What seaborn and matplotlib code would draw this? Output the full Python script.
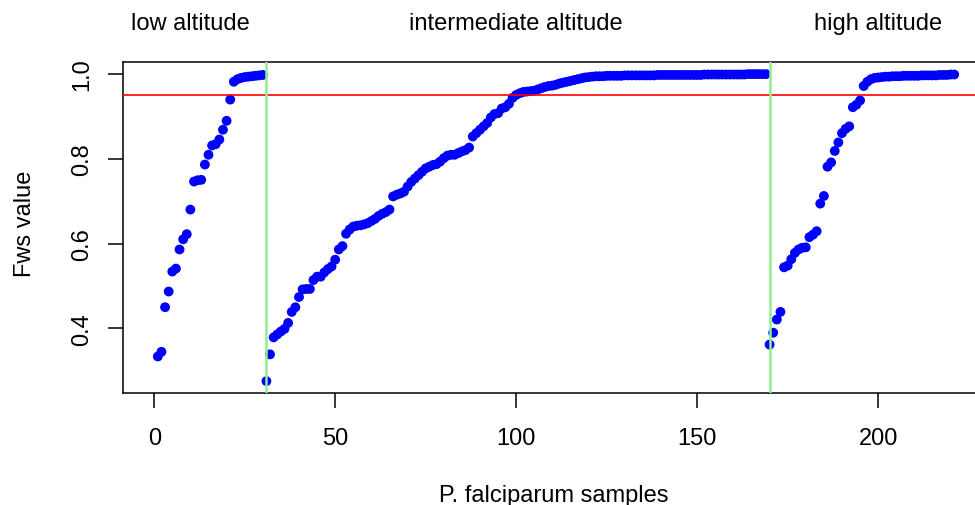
import numpy as np
import pandas as pd
import matplotlib
matplotlib.use('Agg')
import matplotlib.pyplot as plt
import matplotlib.transforms as mtransforms
import seaborn as sns

# Fws values per sample, sorted within each altitude group
low_alt = [0.334, 0.345, 0.450, 0.487, 0.534, 0.541, 0.586, 0.610, 0.622, 0.680,
           0.746, 0.749, 0.750, 0.786, 0.809, 0.831, 0.834, 0.845, 0.868, 0.889,
           0.939, 0.981, 0.987, 0.990, 0.992, 0.993, 0.994, 0.995, 0.996, 0.997]

mid_alt = [0.276, 0.339, 0.379, 0.386, 0.393, 0.399, 0.413, 0.439, 0.450, 0.474,
           0.492, 0.493, 0.493, 0.514, 0.522, 0.522, 0.532, 0.540, 0.546, 0.562,
           0.586, 0.594, 0.623, 0.633, 0.640, 0.642, 0.643, 0.645, 0.648, 0.653,
           0.658, 0.665, 0.670, 0.674, 0.680, 0.711, 0.715, 0.718, 0.722, 0.734,
           0.745, 0.753, 0.761, 0.769, 0.777, 0.781, 0.785, 0.787, 0.793, 0.801,
           0.807, 0.809, 0.809, 0.813, 0.817, 0.820, 0.826, 0.852, 0.860, 0.868,
           0.876, 0.884, 0.897, 0.905, 0.907, 0.918, 0.921, 0.929, 0.943, 0.950,
           0.954, 0.957, 0.958, 0.959, 0.960, 0.963, 0.966, 0.969, 0.971, 0.972,
           0.974, 0.977, 0.979, 0.981, 0.983, 0.985, 0.987, 0.989, 0.991, 0.992,
           0.993, 0.994, 0.994, 0.994, 0.995, 0.995, 0.995, 0.995, 0.995, 0.996,
           0.996, 0.996, 0.996, 0.996, 0.996, 0.996, 0.996, 0.996, 0.997, 0.997,
           0.997, 0.997, 0.997, 0.997, 0.997, 0.997, 0.997, 0.997, 0.997, 0.997,
           0.997, 0.998, 0.998, 0.998, 0.998, 0.998, 0.998, 0.998, 0.998, 0.998,
           0.998, 0.998, 0.998, 0.999, 0.999, 0.999, 0.999, 0.999, 0.999]

high_alt = [0.362, 0.390, 0.421, 0.439, 0.544, 0.548, 0.563, 0.578, 0.586, 0.590,
            0.591, 0.615, 0.621, 0.629, 0.694, 0.712, 0.781, 0.791, 0.818, 0.838,
            0.860, 0.870, 0.876, 0.921, 0.927, 0.937, 0.971, 0.981, 0.987, 0.990,
            0.991, 0.992, 0.993, 0.993, 0.994, 0.994, 0.994, 0.995, 0.995, 0.995,
            0.995, 0.995, 0.996, 0.996, 0.996, 0.996, 0.996, 0.997, 0.997, 0.997,
            0.998, 0.998]

group_names = ['low altitude', 'intermediate altitude', 'high altitude']
group_label_x = [10, 100, 200]
fws_cutoff = 0.95
x_ticks = [0, 50, 100, 150, 200]
y_ticks = [0.4, 0.6, 0.8, 1.0]

sns.set_style('white')
plt.rcParams['font.family'] = ['Liberation Sans', 'DejaVu Sans']
plt.rcParams['text.color'] = 'black'
plt.rcParams['axes.labelcolor'] = 'black'
FS = 17

fws = low_alt + mid_alt + high_alt
df = pd.DataFrame({'sample': np.arange(1, len(fws) + 1), 'fws': fws})

W, H = 975, 506
fig = plt.figure(figsize=(W / 100, H / 100), dpi=100)
ax = fig.add_axes([122.7 / W, 112 / H, 863 / W, 330.7 / H])

sns.scatterplot(data=df, x='sample', y='fws', color='#0000ff', s=50,
                edgecolor='none', linewidth=0, ax=ax, zorder=2)

# Fws cutoff and group boundaries
ax.axhline(fws_cutoff, color='#ff0000', lw=1.2, zorder=3)
for b in [len(low_alt) + 1, len(low_alt) + len(mid_alt) + 1]:
    ax.axvline(b, color='#90ee90', lw=1.8, zorder=3)

ax.set_xlim(-8.7, 229.7)
ax.set_ylim(0.248, 1.0268)
ax.set_xticks(x_ticks)
ax.set_xticklabels([str(t) for t in x_ticks])
ax.set_yticks(y_ticks)
ax.set_yticklabels([f'{t:.1f}' for t in y_ticks], rotation=90, va='center')

for sp in ax.spines.values():
    sp.set_visible(True)
    sp.set_color('black')
    sp.set_linewidth(1.1)

ax.tick_params(axis='both', direction='out', length=10.8, width=1.1,
               color='black', labelsize=FS, labelcolor='black',
               bottom=True, left=True, top=False, right=False)
ax.tick_params(axis='x', pad=14.0)
ax.tick_params(axis='y', pad=10.5)
ax.grid(False)

ax.set_xlabel('P. falciparum samples', fontsize=FS, va='baseline', color='black')
ax.xaxis.set_label_coords(0.5, (H - 501.7 - 112) / 330.7)
ax.set_ylabel('Fws value', fontsize=FS, rotation=90, ha='center', va='center',
              color='black')
ax.yaxis.set_label_coords((24.5 - 122.7) / 863, 0.516)

trans = mtransforms.blended_transform_factory(ax.transData, fig.transFigure)
for name, xpos in zip(group_names, group_label_x):
    ax.text(xpos, (H - 30) / H, name, transform=trans, ha='center',
            va='baseline', fontsize=FS, color='black', clip_on=False)

fig.savefig('out.png', dpi=100)
